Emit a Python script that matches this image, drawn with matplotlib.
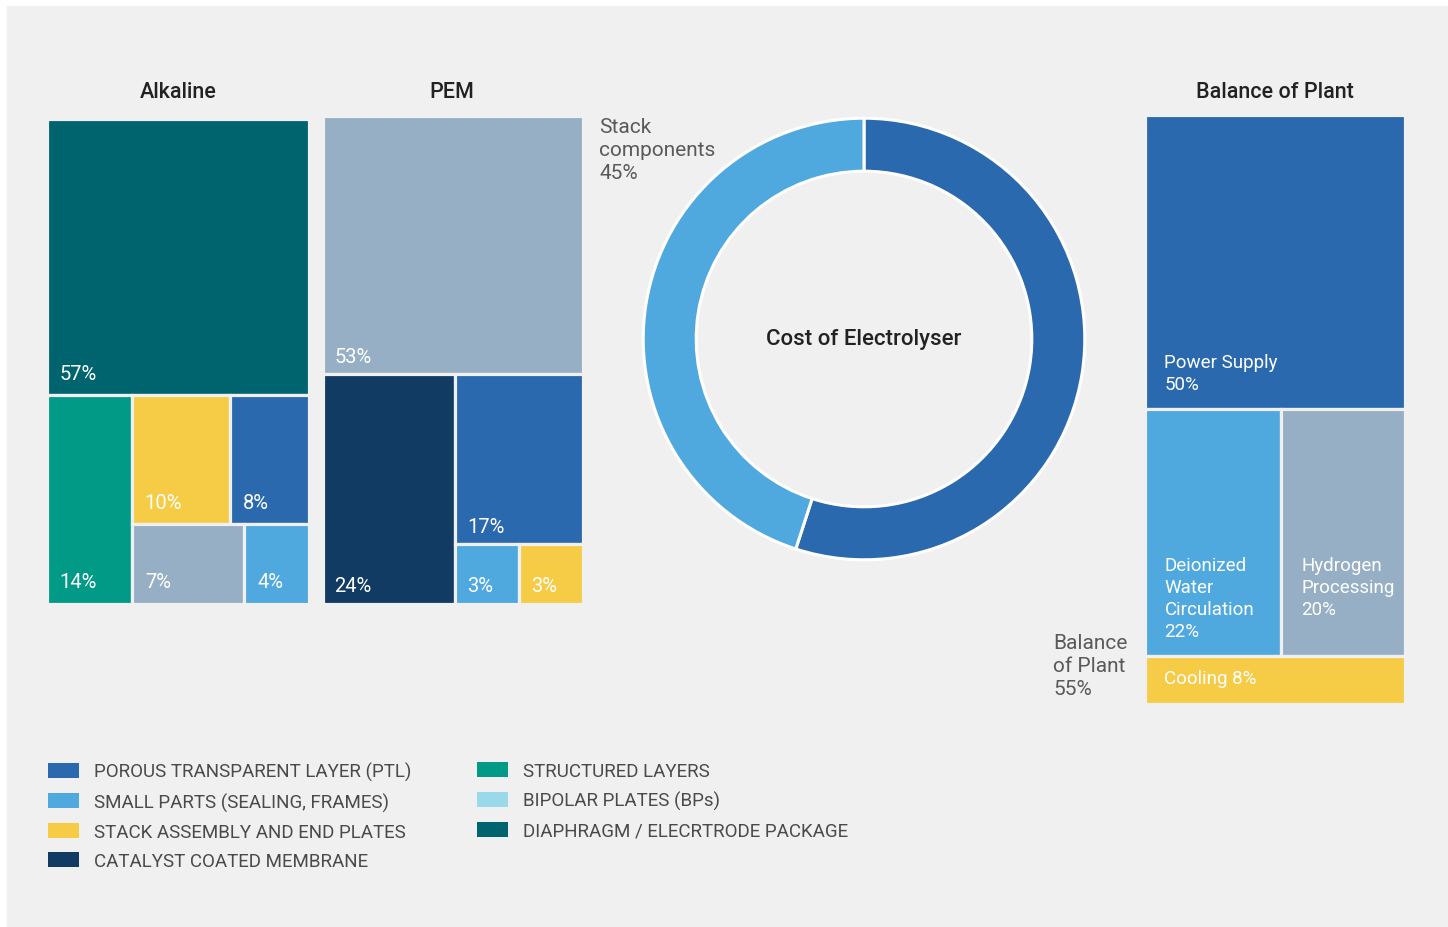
import matplotlib
matplotlib.use("Agg")
import matplotlib.pyplot as plt
from matplotlib.patches import Rectangle, Patch

plt.rcParams['font.family'] = ['Roboto', 'DejaVu Sans']

W, H = 1448, 928
BG = '#f0f0f0'

## colours
c_ptl = '#2a69ad'
c_small = '#4fa8de'
c_stack = '#f6cc46'
c_ccm = '#113b63'
c_struct = '#009a87'
c_bp = '#9ad9ea'
c_diaph = '#00646e'
c_grey = '#96afc5'

## alkaline treemap
alk_values = [57, 14, 10, 8, 7, 4]
alk_labels = ['57%', '14%', '10%', '8%', '7%', '4%']
alk_colors = [c_diaph, c_struct, c_stack, c_ptl, c_grey, c_small]
alk_tree = ('v', [0, ('h', [1, ('v', [('h', [2, 3]), ('h', [4, 5])])])])

## PEM treemap
pem_values = [53, 24, 17, 3, 3]
pem_labels = ['53%', '24%', '17%', '3%', '3%']
pem_colors = [c_grey, c_ccm, c_ptl, c_small, c_stack]
pem_tree = ('v', [0, ('h', [1, ('v', [2, ('h', [3, 4])])])])

## balance of plant treemap
bop_values = [50, 22, 20, 8]
bop_labels = ['Power Supply\n50%', 'Deionized\nWater\nCirculation\n22%',
              'Hydrogen\nProcessing\n20%\n ', 'Cooling 8%']
bop_colors = [c_ptl, c_small, c_grey, c_stack]
bop_tree = ('v', [0, ('h', [1, 2]), 3])

## donut
donut_values = [55, 45]
donut_colors = [c_ptl, c_small]
donut_labels = ['Balance\nof Plant\n55%', 'Stack\ncomponents\n45%']

## legend
leg1_labels = ['POROUS TRANSPARENT LAYER (PTL)', 'SMALL PARTS (SEALING, FRAMES)',
               'STACK ASSEMBLY AND END PLATES', 'CATALYST COATED MEMBRANE']
leg1_colors = [c_ptl, c_small, c_stack, c_ccm]
leg2_labels = ['STRUCTURED LAYERS', 'BIPOLAR PLATES (BPs)', 'DIAPHRAGM / ELECRTRODE PACKAGE']
leg2_colors = [c_struct, c_bp, c_diaph]


def px(x, y):
    return x / W, 1 - y / H


def box(x0, y0, x1, y1):
    ## pixel box -> figure fraction rect
    return [x0 / W, 1 - y1 / H, (x1 - x0) / W, (y1 - y0) / H]


def total(node, vals):
    if isinstance(node, int):
        return vals[node]
    return sum(total(k, vals) for k in node[1])


def layout(node, vals, x, y, w, h, out):
    if isinstance(node, int):
        out[node] = (x, y, w, h)
        return
    d, kids = node
    tot = total(node, vals)
    pos = 0.0
    for k in kids:
        f = total(k, vals) / tot
        if d == 'v':
            layout(k, vals, x, y + h * (1 - pos - f), w, h * f, out)
        else:
            layout(k, vals, x + w * pos, y, w * f, h, out)
        pos += f


def treemap(rect, tree, vals, labels, colors, padx=12, pady=20, fs=13.5):
    ax = fig.add_axes(rect)
    ax.set_xlim(0, 1)
    ax.set_ylim(0, 1)
    ax.axis('off')
    cells = {}
    layout(tree, vals, 0, 0, 1, 1, cells)
    for i in range(len(vals)):
        x, y, w, h = cells[i]
        ax.bar(x, h, width=w, bottom=y, align='edge', color=colors[i],
               edgecolor=BG, linewidth=2.3)
        ax.annotate(labels[i], (x, y), xytext=(padx * 0.72, pady * 0.72),
                    textcoords='offset points', ha='left', va='baseline',
                    color='white', fontsize=fs, linespacing=1.3)
    return ax


fig = plt.figure(figsize=(W / 100, H / 100), dpi=100, facecolor='white')
fig.patches.append(Rectangle((7 / W, 0), 1, 1 - 7 / H, transform=fig.transFigure,
                             color=BG, zorder=-10))

treemap(box(46.5, 119.5, 308.5, 604.5), alk_tree, alk_values, alk_labels, alk_colors, 13, 16, 14.5)
treemap(box(322.5, 116.5, 582.5, 604.5), pem_tree, pem_values, pem_labels, pem_colors, 12, 12, 14.5)
treemap(box(1144.5, 115.5, 1405.5, 704.5), bop_tree, bop_values, bop_labels, bop_colors, 20, 20)

for txt, cx in [('Alkaline', 178), ('PEM', 452), ('Balance of Plant', 1275)]:
    fig.text(*px(cx, 92), txt, ha='center', va='center', fontsize=15.5,
             fontweight='medium', color='#222222')

## donut
cx, cy, r = 864, 340, 223
axd = fig.add_axes(box(cx - r, cy - r, cx + r, cy + r))
axd.pie(donut_values, colors=donut_colors, startangle=90, counterclock=False,
        radius=1, wedgeprops=dict(width=0.24, edgecolor='white', linewidth=2.2))
axd.set_xlim(-1.01, 1.01)
axd.set_ylim(-1.01, 1.01)
axd.axis('off')
axd.text(0, 0, 'Cost of Electrolyser', ha='center', va='center', fontsize=16,
         fontweight='medium', color='#222222')

fig.text(*px(599, 118), donut_labels[1], ha='left', va='top', fontsize=15,
         color='#5a5a5a', linespacing=1.27)
fig.text(*px(1053, 634), donut_labels[0], ha='left', va='top', fontsize=15,
         color='#5a5a5a', linespacing=1.27)

## legend
for labs, cols, x0 in [(leg1_labels, leg1_colors, 48), (leg2_labels, leg2_colors, 477)]:
    handles = [Patch(facecolor=c, edgecolor='none') for c in cols]
    fig.legend(handles, labs, loc='upper left', bbox_to_anchor=px(x0, 763),
               frameon=False, borderpad=0, borderaxespad=0, fontsize=13.5,
               handlelength=1.65, handleheight=0.85, handletextpad=0.8,
               labelspacing=0.6, labelcolor='#4a4a4a')

fig.savefig('out.png', dpi=100, facecolor=fig.get_facecolor())
